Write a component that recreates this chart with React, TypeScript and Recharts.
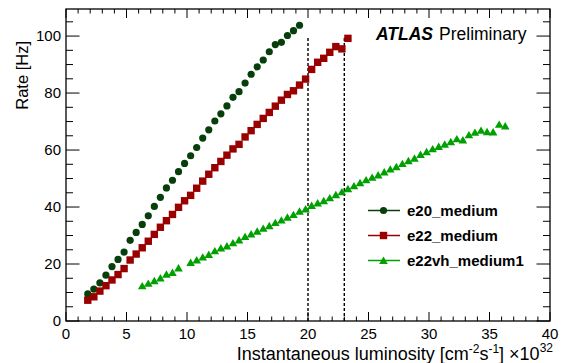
import React from 'react';
import { ScatterChart, Scatter, XAxis, YAxis, ReferenceLine } from 'recharts';

// Luminosity bins [1e32 cm^-2 s^-1]
const lumiBins = [
  1.8, 2.3, 2.8, 3.3, 3.8, 4.3, 4.8, 5.3, 5.8, 6.3,
  6.8, 7.3, 7.8, 8.3, 8.8, 9.3, 9.8, 10.3, 10.8, 11.3,
  11.8, 12.3, 12.8, 13.3, 13.8, 14.3, 14.8, 15.3, 15.8, 16.3,
  16.8, 17.3, 17.8, 18.3, 18.8, 19.3, 19.8, 20.3, 20.8, 21.3,
  21.8, 22.3, 22.8, 23.3, 23.8, 24.3, 24.8, 25.3, 25.8, 26.3,
  26.8, 27.3, 27.8, 28.3, 28.8, 29.3, 29.8, 30.3, 30.8, 31.3,
  31.8, 32.3, 32.8, 33.3, 33.8, 34.3, 34.8, 35.3, 35.8, 36.3,
];

// Trigger rates [Hz] per luminosity bin (null = no entry)
const e20MediumRate = [
  9.5, 11.2, 13.4, 16.1, 19.1, 21.6, 24.2, 28.3, 31.1, 33.9,
  36.9, 40.2, 43.4, 46.7, 49.4, 52.4, 55.3, 58.0, 60.9, 64.2,
  67.1, 70.2, 72.7, 75.5, 78.5, 80.5, 83.5, 86.6, 89.2, 91.6,
  94.5, 97.0, 97.8, 100.2, 101.9, 103.8,
];

const e22MediumRate = [
  7.3, 8.5, 10.5, 12.4, 14.4, 16.3, 18.4, 21.4, 23.5, 25.7,
  28.0, 30.4, 32.9, 35.2, 37.4, 39.9, 42.2, 44.1, 46.6, 49.1,
  51.5, 53.8, 56.0, 58.2, 60.4, 62.0, 64.6, 66.8, 69.0, 71.1,
  73.2, 75.4, 77.5, 79.5, 80.8, 82.8, 84.9, 88.3, 90.8, 92.2,
  94.3, 96.3, 95.5, 99.2,
];

const e22vhMedium1Rate: (number | null)[] = [
  null, null, null, null, null, null, null, null, null, 12.3,
  13.2, 14.1, 15.1, 16.4, 17.0, 18.6, null, 20.5, 21.4, 22.4,
  23.3, 24.6, 25.6, 26.3, 27.4, 28.4, 29.6, 30.5, 31.5, 32.5,
  33.4, 34.5, 35.4, 36.4, 37.3, 38.5, 39.3, 40.5, 41.4, 42.2,
  43.2, 44.3, 45.3, 46.4, 47.4, 48.5, 49.5, 50.4, 51.2, 52.3,
  53.3, 54.1, 55.2, 56.2, 57.1, 58.4, 59.4, 60.4, 61.2, 62.0,
  62.9, 63.9, 63.5, 65.3, 66.2, 66.9, 66.4, 66.3, 69.0, 68.4,
];

// Luminosity points where the rate limits are marked, and their height
const cutLumi = [20, 23];
const cutRate = 100;

const xMajorTicks = [0, 5, 10, 15, 20, 25, 30, 35, 40];
const yMajorTicks = [0, 20, 40, 60, 80, 100];
const xAllTicks = Array.from({ length: 41 }, (_, i) => i);
const yAllTicks = Array.from({ length: 22 }, (_, i) => i * 5);

const W = 565;
const H = 363;
const FONT = '"Liberation Sans", Arial, Helvetica, sans-serif';

const toPoints = (rates: (number | null)[]) =>
  lumiBins
    .map((x, i) => ({ x, y: rates[i] }))
    .filter((p) => p.y !== null && p.y !== undefined) as { x: number; y: number }[];

const DARK_GREEN = '#073f0a';
const DARK_RED = '#990000';
const GREEN = '#00a000';

const circle = (cx: number, cy: number, color: string) => (
  <circle cx={cx} cy={cy} r={3.6} fill={color} />
);
const square = (cx: number, cy: number, color: string) => (
  <rect x={cx - 3.7} y={cy - 3.7} width={7.4} height={7.4} fill={color} />
);
const triangle = (cx: number, cy: number, color: string) => (
  <path d={`M${cx},${cy - 4} L${cx + 4.3},${cy + 3.4} L${cx - 4.3},${cy + 3.4} Z`} fill={color} />
);

const series = [
  { name: 'e20_medium', rates: e20MediumRate, color: DARK_GREEN, marker: circle },
  { name: 'e22_medium', rates: e22MediumRate, color: DARK_RED, marker: square },
  { name: 'e22vh_medium1', rates: e22vhMedium1Rate, color: GREEN, marker: triangle },
];

// Plot frame edges, in pixels
const PLOT_LEFT = 66;
const PLOT_RIGHT = 550;
const PLOT_TOP = 9;
const PLOT_BOTTOM = 321;

function BottomTick(props: any) {
  const { x, payload } = props;
  const v = payload.value as number;
  const major = xMajorTicks.includes(v);
  return (
    <g>
      <line x1={x} x2={x} y1={PLOT_BOTTOM} y2={PLOT_BOTTOM - (major ? 9 : 4.5)} stroke="#000" strokeWidth={1} />
      <line x1={x} x2={x} y1={PLOT_TOP} y2={PLOT_TOP + (major ? 9 : 4.5)} stroke="#000" strokeWidth={1} />
      {major && (
        <text x={x} y={PLOT_BOTTOM + 18} textAnchor="middle" fontSize={15} fontFamily={FONT} fill="#000">
          {v}
        </text>
      )}
    </g>
  );
}

function LeftTick(props: any) {
  const { y, payload } = props;
  const v = payload.value as number;
  const major = yMajorTicks.includes(v);
  return (
    <g>
      <line x1={PLOT_LEFT} x2={PLOT_LEFT + (major ? 13.5 : 7)} y1={y} y2={y} stroke="#000" strokeWidth={1} />
      <line x1={PLOT_RIGHT} x2={PLOT_RIGHT - (major ? 13.5 : 7)} y1={y} y2={y} stroke="#000" strokeWidth={1} />
      {major && (
        <text x={PLOT_LEFT - 5} y={y + 5} textAnchor="end" fontSize={15} fontFamily={FONT} fill="#000">
          {v}
        </text>
      )}
    </g>
  );
}

const legendRows = [210.5, 235.5, 260.5];

export default function App() {
  return (
    <div style={{ position: 'absolute', left: 0, top: 0, width: W, height: H, background: '#fff' }}>
      <ScatterChart
        width={W}
        height={H}
        margin={{ top: PLOT_TOP, right: W - PLOT_RIGHT, bottom: 0, left: 0 }}
      >
        <XAxis
          xAxisId="b"
          type="number"
          dataKey="x"
          domain={[0, 40]}
          ticks={xAllTicks}
          interval={0}
          height={H - PLOT_BOTTOM}
          tickSize={0}
          tickMargin={0}
          axisLine={false}
          tickLine={false}
          tick={BottomTick}
          allowDataOverflow
        />
        <YAxis
          yAxisId="l"
          type="number"
          dataKey="y"
          domain={[0, 109.5]}
          ticks={yAllTicks}
          interval={0}
          width={PLOT_LEFT}
          tickSize={0}
          tickMargin={0}
          axisLine={false}
          tickLine={false}
          tick={LeftTick}
          allowDataOverflow
        />
        {series.map((s) => (
          <Scatter
            key={s.name}
            name={s.name}
            xAxisId="b"
            yAxisId="l"
            data={toPoints(s.rates)}
            fill={s.color}
            isAnimationActive={false}
            shape={(p: any) => s.marker(p.cx, p.cy, s.color)}
          />
        ))}
        {cutLumi.map((c) => (
          <ReferenceLine
            key={c}
            xAxisId="b"
            yAxisId="l"
            segment={[
              { x: c, y: 0 },
              { x: c, y: cutRate },
            ]}
            stroke="#000"
            strokeWidth={1.4}
            strokeDasharray="3 2"
            ifOverflow="visible"
          />
        ))}
      </ScatterChart>
      <svg
        width={W}
        height={H}
        style={{ position: 'absolute', left: 0, top: 0, pointerEvents: 'none' }}
        fontFamily={FONT}
      >
        <rect
          x={PLOT_LEFT}
          y={PLOT_TOP}
          width={PLOT_RIGHT - PLOT_LEFT}
          height={PLOT_BOTTOM - PLOT_TOP}
          fill="none"
          stroke="#000"
          strokeWidth={1.3}
        />
        <text x={376} y={40} fontSize={17.5} fill="#000">
          <tspan fontWeight="bold" fontStyle="italic">ATLAS</tspan>
          <tspan dx={6}>Preliminary</tspan>
        </text>
        {series.map((s, i) => (
          <g key={s.name}>
            <line x1={368} x2={400} y1={legendRows[i]} y2={legendRows[i]} stroke={s.color} strokeWidth={1.5} />
            {s.marker(383.5, legendRows[i], s.color)}
            <text x={407} y={legendRows[i] + 5.5} fontSize={15} fontWeight="bold" fill="#000">
              {s.name}
            </text>
          </g>
        ))}
        <text x={553} y={360} textAnchor="end" fontSize={18} fill="#000">
          Instantaneous luminosity [cm
          <tspan dy={-7} fontSize={12}>-2</tspan>
          <tspan dy={7}>s</tspan>
          <tspan dy={-7} fontSize={12}>-1</tspan>
          <tspan dy={7}>] ×10</tspan>
          <tspan dy={-8} fontSize={12}>32</tspan>
        </text>
        <text
          transform="translate(28,41) rotate(-90)"
          textAnchor="end"
          fontSize={16.5}
          fill="#000"
        >
          Rate [Hz]
        </text>
      </svg>
    </div>
  );
}
